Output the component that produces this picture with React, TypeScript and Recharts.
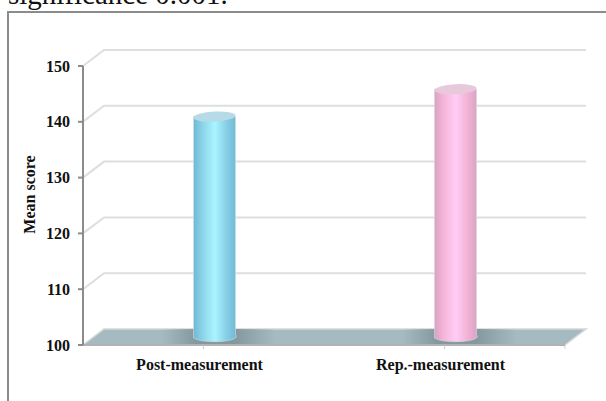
import { BarChart, Bar, XAxis, YAxis, CartesianGrid, Label } from 'recharts'

const categories = ['Post-measurement', 'Rep.-measurement']
const meanScores = [139.5, 144.4]
const yTicks = [100, 110, 120, 130, 140, 150]

const chartData = categories.map((name, i) => ({ name, score: meanScores[i] }))

const SERIF = '"Liberation Serif", "Times New Roman", serif'

// Oblique offset of the back wall and of the bars standing on the floor
const WALL_DX = 21
const WALL_DY = -16
const BAR_DX = 10.5
const BAR_DY = -8
const PLOT_BOTTOM = 345

const PALETTE = [
  { edge: '#6db9d6', mid: '#8ed4ea', light: '#a8f5ff', top: '#b6dbe7' },
  { edge: '#d8a2c2', mid: '#f6b6da', light: '#ffcdf8', top: '#e8c9dc' },
]

function WallLine(props: any) {
  const { x1, x2, y1 } = props
  if (y1 >= PLOT_BOTTOM - 1) {
    const pts = [
      [x1, y1],
      [x1 + WALL_DX, y1 + WALL_DY],
      [x2 + WALL_DX, y1 + WALL_DY],
      [x2, y1],
    ]
    return (
      <g key={props.key}>
        <polygon points={pts.map(p => p.join(',')).join(' ')} fill="#a6bbc1" />
        <polyline
          points={`${x1},${y1} ${x1 + WALL_DX},${y1 + WALL_DY} ${x2 + WALL_DX},${y1 + WALL_DY} ${x2},${y1}`}
          fill="none"
          stroke="#d6d6d6"
          strokeWidth={1.5}
        />
        <line x1={x2} x2={x2} y1={y1} y2={y1 + 4} stroke="#d0d0d0" strokeWidth={1} />
      </g>
    )
  }
  return (
    <polyline
      key={props.key}
      points={`${x1},${y1} ${x1 + WALL_DX},${y1 + WALL_DY} ${x2 + WALL_DX},${y1 + WALL_DY}`}
      fill="none"
      stroke="#dedede"
      strokeWidth={2}
    />
  )
}

function Cylinder(props: any) {
  const { x, y, width, height, index } = props
  const c = PALETTE[index]
  const left = x + BAR_DX
  const top = y + BAR_DY
  const bottom = top + height
  const cx = left + width / 2
  const rx = width / 2
  const ry = 5
  const bodyId = `cyl-body-${index}`
  const shadowId = `cyl-shadow-${index}`
  return (
    <g>
      <defs>
        <linearGradient id={bodyId} x1="0" x2="1" y1="0" y2="0">
          <stop offset="0%" stopColor={c.edge} />
          <stop offset="22%" stopColor={c.mid} />
          <stop offset="50%" stopColor={c.light} />
          <stop offset="72%" stopColor={c.mid} />
          <stop offset="100%" stopColor={c.edge} />
        </linearGradient>
        <linearGradient id={shadowId} x1="0" x2="1" y1="0" y2="0">
          <stop offset="0%" stopColor="#84989f" stopOpacity={0} />
          <stop offset="30%" stopColor="#84989f" />
          <stop offset="65%" stopColor="#84989f" />
          <stop offset="100%" stopColor="#84989f" stopOpacity={0} />
        </linearGradient>
      </defs>
      <rect x={left - 32} y={bottom - 8} width={width + 72} height={15} fill={`url(#${shadowId})`} />
      <path
        d={`M${left},${top} L${left},${bottom + 1} A${rx},${ry} 0 0 0 ${left + width},${bottom - 2} L${left + width},${top} Z`}
        fill={`url(#${bodyId})`}
        stroke="#d9d9d9"
        strokeWidth={0.6}
      />
      <ellipse
        cx={cx}
        cy={top}
        rx={rx}
        ry={ry}
        fill={c.top}
        transform={`rotate(-3 ${cx} ${top})`}
      />
    </g>
  )
}

const tickStyle = { fontFamily: SERIF, fontSize: 16, fontWeight: 700, fill: '#111' }

export default function App() {
  return (
    <div style={{ position: 'absolute', left: 0, top: 0, width: 606, height: 401, overflow: 'hidden', background: '#fff' }}>
      <div
        style={{
          position: 'absolute',
          left: 8,
          top: -22,
          fontFamily: SERIF,
          fontSize: 29,
          lineHeight: '32px',
          color: '#111',
          whiteSpace: 'nowrap',
        }}
      >
        significance 0.001.
      </div>
      <div
        style={{
          position: 'absolute',
          left: 7,
          top: 11,
          width: 640,
          height: 440,
          border: '2px solid #8b8b8b',
        }}
      />
      <div style={{ position: 'absolute', left: 0, top: 0 }}>
        <BarChart
          width={606}
          height={401}
          data={chartData}
          margin={{ top: 66, right: 41, bottom: 26, left: 23 }}
          barSize={42}
        >
          <CartesianGrid vertical={false} horizontal={WallLine} />
          <XAxis
            dataKey="name"
            height={30}
            interval={0}
            tick={{ ...tickStyle, dx: -4 }}
            tickLine={{ stroke: '#c8c8c8' }}
            tickSize={4}
            tickMargin={10}
            axisLine={{ stroke: '#b2b2b2', strokeWidth: 2 }}
          />
          <YAxis
            width={60}
            domain={[100, 150]}
            ticks={yTicks}
            tick={tickStyle}
            tickSize={5}
            tickMargin={8}
            tickLine={{ stroke: '#8c8c8c', strokeWidth: 2 }}
            axisLine={{ stroke: '#8c8c8c', strokeWidth: 2 }}
          >
            <Label
              value="Mean score"
              angle={-90}
              position="insideLeft"
              offset={6}
              dy={-11}
              style={{ fontFamily: SERIF, fontSize: 16, fontWeight: 700, fill: '#111', textAnchor: 'middle' }}
            />
          </YAxis>
          <Bar dataKey="score" shape={Cylinder} isAnimationActive={false} />
        </BarChart>
      </div>
    </div>
  )
}
